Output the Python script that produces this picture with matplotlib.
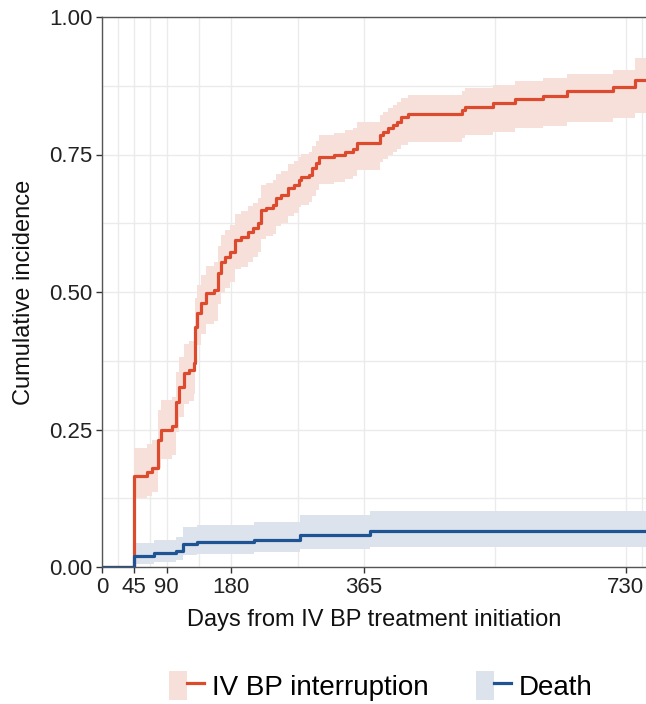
import matplotlib
matplotlib.use("Agg")
import matplotlib.pyplot as plt
from matplotlib.lines import Line2D
from matplotlib.patches import Patch
from matplotlib.legend_handler import HandlerTuple

plt.rcParams['font.family'] = ['Liberation Sans', 'DejaVu Sans']

# ----------------------------------------------------------------------
# Data
# ----------------------------------------------------------------------
# IV BP interruption: step times (days), estimate, lower / upper CI
ivbp_days = [0, 45, 63, 70, 78, 82, 98, 103, 107, 114, 121, 128, 129, 133, 138,
             145, 156, 161, 166, 172, 179, 186, 193, 203, 210, 217, 221, 228,
             238, 242, 249, 259, 267, 274, 277, 288, 293, 298, 302, 323, 339,
             350, 356, 387, 392, 399, 406, 411, 416, 427, 502, 506, 545, 576,
             615, 648, 712, 743, 758]
ivbp_est = [0.000, 0.165, 0.172, 0.180, 0.231, 0.249, 0.256, 0.300, 0.328, 0.352,
            0.358, 0.371, 0.437, 0.461, 0.480, 0.498, 0.504, 0.535, 0.555, 0.564,
            0.573, 0.595, 0.600, 0.609, 0.616, 0.625, 0.649, 0.653, 0.658, 0.671,
            0.676, 0.689, 0.695, 0.704, 0.709, 0.713, 0.725, 0.734, 0.745, 0.749,
            0.755, 0.760, 0.771, 0.785, 0.791, 0.798, 0.804, 0.809, 0.818, 0.823,
            0.831, 0.837, 0.843, 0.851, 0.856, 0.865, 0.873, 0.885, 0.885]
ivbp_lo = [0.000, 0.125, 0.130, 0.137, 0.180, 0.197, 0.203, 0.245, 0.272, 0.296,
           0.302, 0.314, 0.380, 0.404, 0.423, 0.441, 0.447, 0.479, 0.499, 0.508,
           0.518, 0.541, 0.546, 0.555, 0.563, 0.572, 0.597, 0.601, 0.606, 0.620,
           0.625, 0.638, 0.644, 0.654, 0.659, 0.663, 0.675, 0.685, 0.696, 0.700,
           0.706, 0.711, 0.722, 0.736, 0.742, 0.749, 0.755, 0.760, 0.768, 0.772,
           0.780, 0.786, 0.791, 0.798, 0.802, 0.810, 0.816, 0.826, 0.826]
ivbp_hi = [0.000, 0.216, 0.223, 0.231, 0.285, 0.303, 0.310, 0.354, 0.382, 0.405,
           0.411, 0.424, 0.490, 0.513, 0.531, 0.548, 0.554, 0.584, 0.603, 0.612,
           0.621, 0.642, 0.647, 0.656, 0.662, 0.671, 0.694, 0.698, 0.703, 0.715,
           0.720, 0.732, 0.738, 0.746, 0.751, 0.755, 0.766, 0.774, 0.785, 0.789,
           0.794, 0.799, 0.809, 0.822, 0.827, 0.834, 0.840, 0.845, 0.853, 0.858,
           0.866, 0.871, 0.877, 0.884, 0.889, 0.897, 0.904, 0.925, 0.925]

# Death
death_days = [0, 45, 72, 103, 113, 132, 212, 276, 373, 758]
death_est = [0.000, 0.020, 0.025, 0.029, 0.042, 0.045, 0.049, 0.059, 0.065, 0.065]
death_lo = [0.000, 0.006, 0.009, 0.012, 0.022, 0.024, 0.027, 0.033, 0.037, 0.037]
death_hi = [0.000, 0.043, 0.050, 0.055, 0.072, 0.076, 0.081, 0.094, 0.101, 0.101]

x_ticks = [0, 45, 90, 180, 365, 730]
x_minor = [22.5, 67.5, 135, 272.5, 547.5, 752]
y_ticks = [0, 0.25, 0.5, 0.75, 1.0]
y_minor = [0.125, 0.375, 0.625, 0.875]

red = '#DC4B2E'
blue = '#1E5494'
red_fill = '#F8E0DA'
blue_fill = '#DCE3EC'

# ----------------------------------------------------------------------
# Figure
# ----------------------------------------------------------------------
fig = plt.figure(figsize=(6.46, 7.04), dpi=100)
ax = fig.add_axes([102 / 646, 1 - 567 / 704, 1 - 102 / 646, 550 / 704])

ax.fill_between(ivbp_days, ivbp_lo, ivbp_hi, step='post', color=red_fill, lw=0, zorder=2)
ax.fill_between(death_days, death_lo, death_hi, step='post', color=blue_fill, lw=0, zorder=2)
ax.step(ivbp_days, ivbp_est, where='post', color=red, lw=2.3, zorder=3)
ax.step(death_days, death_est, where='post', color=blue, lw=2.3, zorder=3)

ax.set_xlim(0, 758)
ax.set_ylim(0, 1)
ax.set_xticks(x_ticks)
ax.set_xticks(x_minor, minor=True)
ax.set_yticks(y_ticks)
ax.set_yticks(y_minor, minor=True)
ax.set_yticklabels(['0.00', '0.25', '0.50', '0.75', '1.00'])

ax.grid(True, which='both', color='#EBEBEB', lw=1.0, zorder=0)
ax.set_axisbelow(True)
ax.tick_params(which='minor', length=0)
ax.tick_params(which='major', length=4, width=1.0, color='#333333',
               labelsize=16, labelcolor='#222222', pad=3)

for side in ['left', 'bottom', 'top']:
    ax.spines[side].set_color('#555555')
    ax.spines[side].set_linewidth(1.0)
ax.spines['right'].set_visible(False)

ax.set_xlabel('Days from IV BP treatment initiation', fontsize=17, color='#111111', labelpad=8)
ax.set_ylabel('Cumulative incidence', fontsize=17, color='#111111', labelpad=10)

# legend: line drawn over a filled key box, like ggplot
h1 = (Patch(facecolor=red_fill, edgecolor='none'), Line2D([], [], color=red, lw=2.3))
h2 = (Patch(facecolor=blue_fill, edgecolor='none'), Line2D([], [], color=blue, lw=2.3))
fig.legend([h1, h2], ['IV BP interruption', 'Death'],
           handler_map={tuple: HandlerTuple(ndivide=None, pad=0)},
           loc='center', bbox_to_anchor=(0.59, 1 - 686 / 704), ncol=2,
           frameon=False, fontsize=20, handlelength=1.25, handleheight=1.25,
           handletextpad=0.3, columnspacing=1.7)

plt.savefig('out.png', dpi=100)
plt.close()
